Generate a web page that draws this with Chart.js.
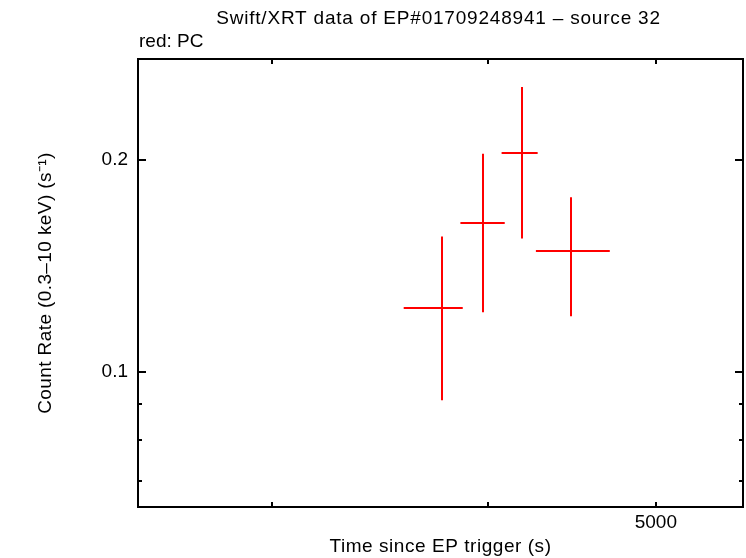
<!DOCTYPE html>
<html>
<head>
<meta charset="utf-8">
<script src="https://cdn.jsdelivr.net/npm/chart.js@4/dist/chart.umd.min.js"></script>
<style>
  body { margin: 0; background: #fff; }
  canvas { display: block; }
</style>
</head>
<body>
<canvas id="lc" width="746" height="558"></canvas>
<script>
const titleText = 'Swift/XRT data of EP#01709248941 \u2013 source 32';
const subText = 'red: PC';
const xTitle = 'Time since EP trigger (s)';
const yTitle = 'Count Rate (0.3\u201310 keV) (s\u207B\u00B9)';

// time bins (s) and count rates (s^-1)
const times  = [3762, 3973, 4185, 4467];
const timeLo = [3576, 3856, 4073, 4263];
const timeHi = [3868, 4090, 4273, 4703];
const rates  = [0.1233, 0.1626, 0.2043, 0.1484];
const rateLo = [0.0911, 0.1215, 0.1546, 0.1199];
const rateHi = [0.1556, 0.2038, 0.2535, 0.1768];

const xRange = [2512, 5614];
const yRange = [0.0643, 0.2778];
const xTicks = [3000, 4000, 5000];
const xTickLabels = ['', '', '5000'];
const yMajor = [0.1, 0.2];
const yMajorLabels = ['0.1', '0.2'];
const yMinor = [0.07, 0.08, 0.09];

const font = '19px "Liberation Sans", Helvetica, Arial, sans-serif';

const gnuplotLook = {
    id: 'gnuplotLook',
    afterDatasetsDraw(chart) {
        const c = chart.ctx;
        const a = chart.chartArea;
        const xs = chart.scales.x, ys = chart.scales.y;
        c.save();

        // error bars
        c.strokeStyle = '#ff0000';
        c.lineWidth = 2;
        for (let i = 0; i < times.length; i++) {
            const px = Math.round(xs.getPixelForValue(times[i]));
            const py = Math.round(ys.getPixelForValue(rates[i]));
            c.beginPath();
            c.moveTo(xs.getPixelForValue(timeLo[i]), py);
            c.lineTo(xs.getPixelForValue(timeHi[i]), py);
            c.moveTo(px, ys.getPixelForValue(rateLo[i]));
            c.lineTo(px, ys.getPixelForValue(rateHi[i]));
            c.stroke();
        }

        // frame
        c.strokeStyle = '#000';
        c.lineWidth = 2;
        c.strokeRect(a.left, a.top, a.right - a.left, a.bottom - a.top);

        // ticks (inward, both sides)
        c.beginPath();
        xTicks.forEach(v => {
            const px = Math.round(xs.getPixelForValue(v));
            c.moveTo(px, a.bottom); c.lineTo(px, a.bottom - 5);
            c.moveTo(px, a.top); c.lineTo(px, a.top + 5);
        });
        yMajor.forEach(v => {
            const py = Math.round(ys.getPixelForValue(v));
            c.moveTo(a.left, py); c.lineTo(a.left + 8, py);
            c.moveTo(a.right, py); c.lineTo(a.right - 8, py);
        });
        yMinor.forEach(v => {
            const py = Math.round(ys.getPixelForValue(v));
            c.moveTo(a.left, py); c.lineTo(a.left + 4, py);
            c.moveTo(a.right, py); c.lineTo(a.right - 4, py);
        });
        c.stroke();

        // labels
        c.fillStyle = '#000';
        c.font = font;
        c.textBaseline = 'middle';
        c.textAlign = 'center';
        xTicks.forEach((v, i) => {
            if (xTickLabels[i]) c.fillText(xTickLabels[i], xs.getPixelForValue(v), a.bottom + 16);
        });
        c.textAlign = 'right';
        yMajor.forEach((v, i) => {
            c.fillText(yMajorLabels[i], a.left - 10, ys.getPixelForValue(v));
        });

        c.textAlign = 'left';
        c.fillText(subText, a.left + 1, 42);
        c.textAlign = 'center';
        c.letterSpacing = '0.8px';
        c.fillText(titleText, (a.left + a.right) / 2 - 2, 19);
        c.letterSpacing = '0.55px';
        c.fillText(xTitle, (a.left + a.right) / 2, 547);

        c.letterSpacing = '0.4px';
        c.translate(46, (a.top + a.bottom) / 2);
        c.rotate(-Math.PI / 2);
        c.fillText(yTitle, 0, 0);
        c.restore();
    }
};

const hiddenAxis = {
    grid: { display: false, drawTicks: false },
    border: { display: false },
    ticks: { display: false, padding: 0 }
};

new Chart(document.getElementById('lc'), {
    type: 'scatter',
    data: {
        datasets: [{
            label: 'PC',
            data: times.map((t, i) => ({ x: t, y: rates[i] })),
            pointRadius: 0,
            borderColor: '#ff0000',
            backgroundColor: '#ff0000'
        }]
    },
    options: {
        responsive: false,
        animation: false,
        devicePixelRatio: 1,
        layout: { padding: { left: 138, top: 59, right: 3, bottom: 51 } },
        plugins: { legend: { display: false }, tooltip: { enabled: false } },
        scales: {
            x: Object.assign({ type: 'logarithmic', min: xRange[0], max: xRange[1] }, hiddenAxis),
            y: Object.assign({ type: 'logarithmic', min: yRange[0], max: yRange[1] }, hiddenAxis)
        }
    },
    plugins: [gnuplotLook]
});
</script>
</body>
</html>
